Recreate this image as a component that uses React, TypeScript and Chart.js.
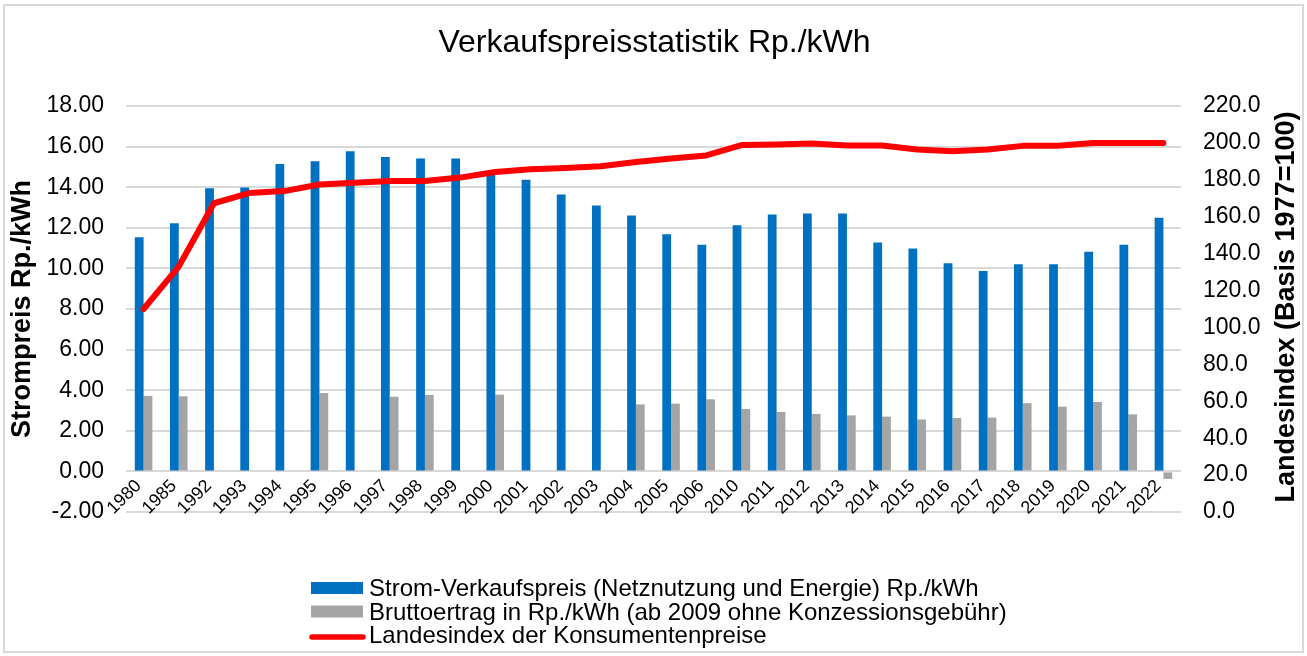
import React, { useEffect, useRef } from 'react';
import { Chart, registerables } from 'chart.js';

Chart.register(...registerables);

const FONT = "'Liberation Sans', Arial, Helvetica, sans-serif";

const categories = [
  '1980', '1985', '1992', '1993', '1994', '1995', '1996', '1997', '1998', '1999',
  '2000', '2001', '2002', '2003', '2004', '2005', '2006', '2010', '2011', '2012',
  '2013', '2014', '2015', '2016', '2017', '2018', '2019', '2020', '2021', '2022',
];

const strompreis = [
  11.53, 12.22, 13.95, 13.99, 15.14, 15.28, 15.77, 15.49, 15.41, 15.41,
  14.75, 14.37, 13.64, 13.1, 12.6, 11.68, 11.17, 12.12, 12.65, 12.7,
  12.7, 11.28, 10.98, 10.25, 9.87, 10.2, 10.2, 10.82, 11.17, 12.5,
];

const bruttoertrag = [
  3.72, 3.7, null, null, null, 3.86, null, 3.68, 3.77, null,
  3.78, null, null, null, 3.3, 3.34, 3.55, 3.08, 2.93, 2.83,
  2.76, 2.7, 2.56, 2.63, 2.65, 3.36, 3.19, 3.42, 2.81, -0.37,
];

const landesindex = [
  110, 133, 167.3, 172.8, 173.9, 177.5, 178.4, 179.3, 179.3, 181.2,
  184.2, 185.7, 186.4, 187.3, 189.7, 191.5, 193.2, 198.8, 199.1, 199.7,
  198.6, 198.6, 196.4, 195.5, 196.4, 198.4, 198.4, 199.9, 200, 200,
];

const chartTitle = 'Verkaufspreisstatistik Rp./kWh';
const leftAxisTitle = 'Strompreis Rp./kWh';
const rightAxisTitle = 'Landesindex (Basis 1977=100)';
const legendLabels = [
  'Strom-Verkaufspreis (Netznutzung und Energie) Rp./kWh',
  'Bruttoertrag in Rp./kWh (ab 2009 ohne Konzessionsgebühr)',
  'Landesindex der Konsumentenpreise',
];

const BLUE = '#0070c0';
const GREY = '#a5a5a5';
const RED = '#ff0000';
const GRID = '#d9d9d9';

const decorPlugin = {
  id: 'decor',
  beforeDraw(chart: any) {
    const ctx = chart.ctx;
    ctx.save();
    ctx.fillStyle = '#ffffff';
    ctx.fillRect(0, 0, chart.width, chart.height);
    ctx.strokeStyle = GRID;
    ctx.lineWidth = 2;
    ctx.strokeRect(4, 5, chart.width - 8, chart.height - 9);
    ctx.restore();
  },
  afterDraw(chart: any) {
    const ctx = chart.ctx;
    const area = chart.chartArea;
    // right axis title (reads bottom to top)
    ctx.save();
    ctx.font = `bold 27px ${FONT}`;
    ctx.fillStyle = '#000';
    ctx.textAlign = 'center';
    ctx.textBaseline = 'middle';
    ctx.translate(chart.width - 20, (area.top + area.bottom) / 2 - 2);
    ctx.rotate(-Math.PI / 2);
    ctx.fillText(rightAxisTitle, 0, 0);
    ctx.restore();

    // legend
    ctx.save();
    ctx.font = `24px ${FONT}`;
    ctx.textAlign = 'left';
    ctx.textBaseline = 'alphabetic';
    const x0 = 311;
    const boxW = 52;
    const base0 = 596;
    const step = 23.5;
    ctx.fillStyle = BLUE;
    ctx.fillRect(x0, base0 - 14, boxW, 12);
    ctx.fillStyle = GREY;
    ctx.fillRect(x0, base0 + step - 14, boxW, 12);
    ctx.strokeStyle = RED;
    ctx.lineWidth = 5.5;
    ctx.lineCap = 'round';
    ctx.beginPath();
    ctx.moveTo(x0 + 1, base0 + 2 * step - 6);
    ctx.lineTo(x0 + boxW, base0 + 2 * step - 6);
    ctx.stroke();
    ctx.fillStyle = '#000';
    legendLabels.forEach((t, i) => {
      ctx.fillText(t, x0 + boxW + 6, base0 + i * step);
    });
    ctx.restore();
  },
};

export default function App() {
  const canvasRef = useRef<HTMLCanvasElement | null>(null);

  useEffect(() => {
    document.body.style.margin = '0';
    const canvas = canvasRef.current;
    if (!canvas) return;
    Chart.defaults.font.family = FONT;
    const chart = new Chart(canvas, {
      type: 'bar',
      data: {
        labels: categories,
        datasets: [
          {
            type: 'line',
            label: legendLabels[2],
            data: landesindex,
            yAxisID: 'y1',
            borderColor: RED,
            backgroundColor: RED,
            borderWidth: 6,
            pointRadius: 0,
            tension: 0,
            borderCapStyle: 'round',
            borderJoinStyle: 'round',
            order: 0,
          } as any,
          {
            type: 'bar',
            label: legendLabels[0],
            data: strompreis,
            yAxisID: 'y',
            backgroundColor: BLUE,
            categoryPercentage: 0.5,
            barPercentage: 1,
            order: 1,
          },
          {
            type: 'bar',
            label: legendLabels[1],
            data: bruttoertrag,
            yAxisID: 'y',
            backgroundColor: GREY,
            categoryPercentage: 0.5,
            barPercentage: 1,
            order: 2,
          },
        ],
      },
      options: {
        responsive: false,
        animation: false,
        devicePixelRatio: 1,
        layout: { padding: { top: 10, left: 6, right: 4, bottom: 144 } },
        plugins: {
          legend: { display: false },
          tooltip: { enabled: false },
          title: {
            display: true,
            text: chartTitle,
            color: '#000',
            font: { size: 32, weight: 'normal', family: FONT },
            padding: { top: 14, bottom: 43.6 },
          },
        },
        scales: {
          x: {
            type: 'category',
            position: { y: 0 } as any,
            offset: true,
            grid: { display: false, drawTicks: false },
            border: { display: false },
            ticks: {
              autoSkip: false,
              minRotation: 45,
              maxRotation: 45,
              padding: 4,
              labelOffset: -5,
              color: '#000',
              font: { size: 18, family: FONT },
            },
          },
          y: {
            position: 'left',
            min: -2,
            max: 18,
            ticks: {
              stepSize: 2,
              padding: 22,
              color: '#000',
              font: { size: 23, family: FONT },
              callback: (v: any) => Number(v).toFixed(2),
            },
            grid: { color: GRID, lineWidth: 2, drawTicks: false },
            border: { display: false },
            title: {
              display: true,
              text: leftAxisTitle,
              color: '#000',
              font: { size: 27, weight: 'bold', family: FONT },
              padding: { top: 0, bottom: 0 },
            },
            afterFit: (s: any) => {
              s.width = 120;
            },
          },
          y1: {
            position: 'right',
            min: 0,
            max: 220,
            ticks: {
              stepSize: 20,
              padding: 22,
              color: '#000',
              font: { size: 23, family: FONT },
              callback: (v: any) => Number(v).toFixed(1),
            },
            grid: { display: false, drawTicks: false },
            border: { display: false },
            afterFit: (s: any) => {
              s.width = 122;
            },
          },
        },
      } as any,
      plugins: [decorPlugin],
    });
    return () => chart.destroy();
  }, []);

  return (
    <div style={{ width: 1307, height: 656, position: 'relative' }}>
      <canvas ref={canvasRef} width={1307} height={656} style={{ width: 1307, height: 656, display: 'block' }} />
    </div>
  );
}
